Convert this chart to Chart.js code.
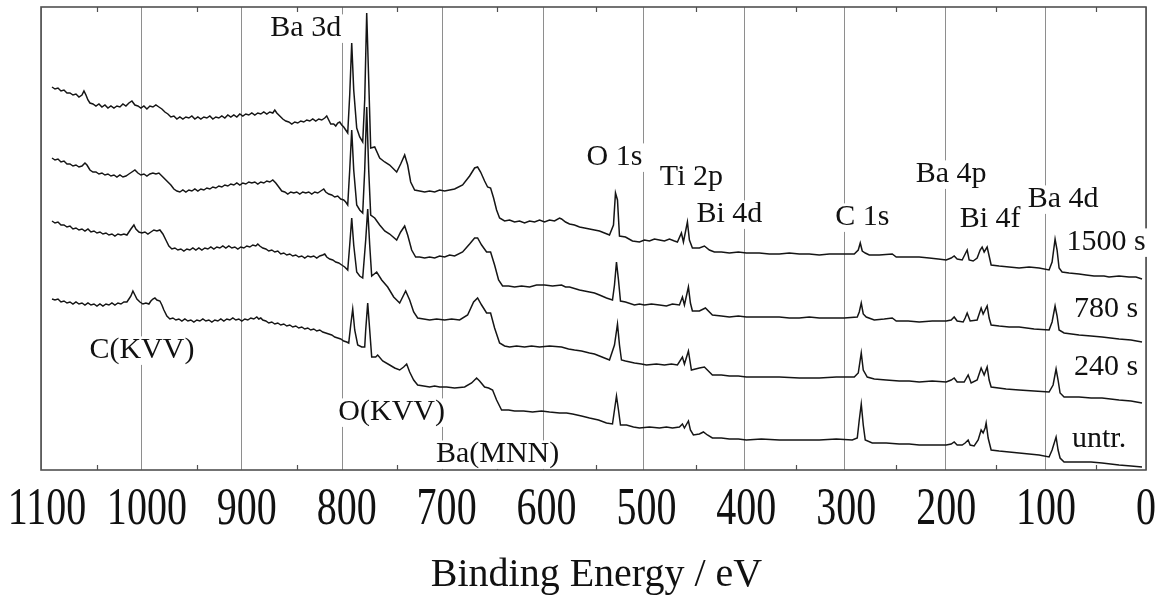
<!DOCTYPE html>
<html>
<head>
<meta charset="utf-8">
<title>XPS survey</title>
<script src="https://cdn.jsdelivr.net/npm/chart.js@4.4.1/dist/chart.umd.min.js"></script>
<style>
  html, body { margin: 0; padding: 0; background: #fff; }
  #wrap { width: 1165px; height: 597px; position: relative; }
</style>
</head>
<body>
<div id="wrap"><canvas id="xpsChart"></canvas></div>
<script>
// [binding energy (eV), intensity (a.u., spectra stacked)]

// 1500 s
const spec1500 = [
  [1095,383],[1092,381],[1089,382],[1086,379],[1083,380],[1080,377],[1077,377],[1074,375],[1071,376],[1068,373],
  [1065,375],[1063,379],[1061,375],[1059,370],[1057,367],[1054,366],[1051,364],[1048,366],[1045,363],[1042,365],
  [1039,362],[1036,364],[1033,362],[1030,364],[1027,363],[1024,366],[1021,364],[1018,367],[1015,369],[1012,365],
  [1009,364],[1006,362],[1003,364],[1000,361],[997,364],[994,363],[991,365],[988,363],[985,361],[982,358],
  [979,356],[976,353],[973,354],[970,351],[967,353],[964,351],[961,353],[958,352],[955,354],[952,351],
  [949,353],[946,351],[943,353],[940,352],[937,354],[934,351],[931,353],[928,352],[925,354],[922,352],
  [919,355],[916,353],[913,355],[910,353],[907,356],[904,354],[901,356],[898,355],[895,357],[892,355],
  [889,357],[886,356],[883,358],[880,356],[877,358],[874,357],[872,360],[870,357],[867,354],[864,351],
  [861,349],[858,348],[855,346],[852,348],[849,347],[846,349],[843,348],[840,350],[837,349],[834,351],
  [831,349],[828,351],[825,350],[822,352],[820,354],[818,350],[816,346],[813,346],[811,344],[809,347],
  [807,348],[805,345],[803,343],[801,340],[799,337],
  [797,375],[795,427],[793,380],[790,342],[787,333],[784,328],[782,370],[780,457],[778,390],[776,322],
  [772,323],[767,312],[762,308],[757,305],[750,298],[746,306],[742,315],[739,305],[736,288],[732,280],
  [727,279],[722,278],[717,279],[712,278],[707,280],[702,279],[697,280],[692,281],[684,285],[677,294],
  [672,302],[669,303],[666,298],[662,289],[659,283],[656,282],[653,272],[650,260],[647,252],[642,249],
  [637,250],[632,248],[627,249],[622,247],[617,249],[612,248],[607,250],[602,248],[597,250],[592,249],
  [587,252],[585,251],[581,248],[577,246],[572,245],[567,243],[562,242],[557,241],[552,240],[547,239],
  [542,237],[537,235],[533,245],[531,277],[529,270],[527,234],[521,233],[514,229],[507,228],[502,230],
  [497,229],[492,231],[487,230],[482,229],[477,231],[472,229],[469,228],[465,237],[463,228],[459,248],
  [457,230],[454,222],[447,222],[442,224],[437,220],[432,218],[425,218],[417,217],[408,218],[400,217],
  [387,217],[377,216],[367,216],[357,217],[347,216],[337,216],[327,215],[317,216],[307,216],[292,216],
  [288,220],[286,227],[284,219],[281,217],[277,215],[267,215],[254,216],[250,213],[237,213],[227,213],
  [217,212],[208,211],[200,210],[195,212],[192,214],[189,211],[184,210],[181,216],[179,220],[177,210],
  [173,209],[169,212],[166,220],[164,223],[162,218],[159,223],[157,214],[155,205],[147,204],[137,203],
  [127,202],[117,203],[107,202],[97,200],[94,208],[91,231],[89,220],[87,202],[84,198],[77,197],
  [67,196],[60,195],[52,194],[42,194],[37,193],[27,194],[17,193],[10,193],[4,191]
];

// 780 s
const spec780 = [
  [1095,312],[1092,310],[1089,311],[1086,308],[1083,309],[1080,306],[1077,306],[1074,304],[1071,305],[1068,303],
  [1065,304],[1062,307],[1060,305],[1057,300],[1054,298],[1051,298],[1048,296],[1045,297],[1042,295],[1039,296],
  [1036,294],[1033,295],[1030,293],[1027,295],[1024,293],[1021,294],[1018,296],[1015,298],[1012,300],[1009,297],
  [1006,295],[1003,296],[1000,294],[997,296],[994,297],[991,296],[988,297],[985,294],[982,291],[979,288],
  [976,285],[973,281],[970,279],[967,278],[964,280],[961,278],[958,280],[955,279],[952,281],[949,279],
  [946,281],[943,280],[940,282],[937,281],[934,283],[931,282],[928,284],[925,283],[922,285],[919,284],
  [916,286],[913,285],[910,287],[907,285],[904,287],[901,286],[898,288],[895,287],[892,288],[889,286],
  [886,288],[883,287],[880,289],[877,288],[874,290],[871,287],[868,283],[865,279],[862,278],[859,276],
  [856,278],[853,277],[850,278],[847,276],[844,278],[841,277],[838,278],[835,276],[832,278],[829,277],
  [826,279],[823,281],[821,278],[818,276],[815,275],[812,273],[809,274],[806,271],[803,270],[801,268],
  [799,265],
  [797,300],[795,340],[793,300],[790,265],[787,260],[784,257],[782,300],[780,363],[778,300],[776,255],
  [772,252],[767,245],[762,239],[757,236],[750,230],[746,238],[742,244],[739,235],[735,220],[731,213],
  [727,213],[722,212],[717,213],[712,212],[707,214],[702,213],[697,215],[692,214],[684,218],[677,226],
  [672,232],[669,232],[665,225],[660,218],[656,218],[652,205],[648,190],[644,184],[638,184],[632,183],
  [625,184],[617,183],[610,185],[602,185],[594,184],[585,185],[581,183],[577,183],[567,180],[562,179],
  [557,178],[552,177],[547,175],[540,172],[534,170],[532,185],[530,208],[528,190],[526,169],[521,168],
  [512,165],[507,166],[502,165],[495,166],[487,165],[480,164],[474,166],[467,165],[464,173],[462,165],
  [458,183],[456,167],[454,159],[447,159],[441,162],[434,155],[425,154],[417,153],[408,154],[400,153],
  [385,153],[367,153],[357,152],[347,152],[337,153],[327,152],[315,152],[302,152],[289,153],[287,158],
  [285,167],[283,156],[280,153],[272,150],[262,151],[254,152],[250,149],[238,149],[227,148],[214,149],
  [200,149],[195,150],[192,153],[189,149],[183,148],[181,152],[179,157],[176,149],[169,150],[165,162],
  [163,156],[159,164],[157,152],[155,145],[147,144],[137,143],[127,143],[112,141],[97,140],[94,148],
  [91,164],[89,154],[87,140],[82,137],[67,135],[55,134],[44,133],[27,131],[15,130],[4,128]
];

// 240 s
const spec240 = [
  [1095,249],[1092,247],[1089,248],[1086,245],[1083,245],[1080,243],[1077,244],[1074,241],[1071,242],[1068,240],
  [1065,241],[1062,239],[1059,241],[1056,238],[1053,239],[1050,237],[1047,238],[1044,236],[1041,237],[1038,235],
  [1035,236],[1032,234],[1029,236],[1026,235],[1023,236],[1020,235],[1018,238],[1016,241],[1013,245],[1011,241],
  [1008,238],[1005,237],[1002,238],[999,236],[996,238],[993,240],[990,239],[987,240],[984,236],[981,230],
  [978,224],[975,221],[972,222],[969,220],[966,221],[963,219],[960,221],[957,220],[954,222],[951,220],
  [948,222],[945,220],[942,222],[939,221],[936,223],[933,221],[930,223],[927,222],[924,224],[921,222],
  [918,224],[915,222],[912,223],[909,221],[906,223],[903,222],[900,224],[897,223],[894,225],[891,224],
  [889,226],[887,224],[884,222],[881,221],[878,219],[875,220],[872,218],[869,219],[866,216],[863,217],
  [860,215],[857,216],[854,214],[851,215],[848,213],[845,214],[842,212],[839,214],[836,213],[833,214],
  [830,212],[827,214],[824,215],[822,216],[820,213],[817,211],[814,210],[811,208],[808,207],[805,205],
  [802,203],[799,200],
  [797,225],[795,252],[793,225],[790,198],[787,194],[784,192],[781,230],[779,261],[777,225],[775,194],
  [770,198],[765,190],[759,183],[753,173],[747,167],[741,179],[737,170],[733,158],[729,152],[723,151],
  [717,150],[710,151],[702,150],[695,151],[687,150],[679,155],[673,168],[669,172],[665,165],[660,157],
  [656,157],[652,142],[647,127],[642,124],[637,123],[630,124],[622,123],[615,124],[607,123],[597,124],
  [585,123],[578,121],[572,120],[565,119],[557,117],[552,116],[547,114],[542,112],[537,110],[532,125],
  [529,146],[527,125],[525,110],[521,109],[512,107],[505,106],[500,105],[490,106],[482,105],[475,106],
  [469,105],[464,113],[462,106],[458,119],[455,100],[447,102],[442,103],[434,95],[425,95],[417,94],
  [408,94],[400,93],[385,93],[367,93],[347,92],[327,92],[310,93],[292,93],[288,97],[285,117],
  [283,100],[279,93],[272,91],[260,90],[247,89],[237,89],[227,88],[214,89],[200,88],[195,90],
  [192,92],[189,88],[182,88],[178,95],[175,87],[169,90],[165,102],[162,95],[159,103],[157,90],
  [155,83],[140,81],[127,80],[112,79],[97,78],[93,85],[90,101],[88,90],[86,77],[82,73],
  [67,73],[55,72],[44,72],[27,70],[15,69],[4,67]
];

// untreated
const specUntr = [
  [1095,171],[1092,170],[1089,171],[1086,168],[1083,169],[1080,167],[1077,168],[1074,166],[1071,168],[1068,166],
  [1065,167],[1062,165],[1059,167],[1056,165],[1053,166],[1050,164],[1047,166],[1044,164],[1041,166],[1038,165],
  [1035,167],[1032,165],[1029,167],[1026,166],[1023,168],[1020,168],[1018,171],[1016,174],[1014,179],[1012,175],
  [1010,171],[1007,168],[1004,166],[1001,167],[998,166],[996,169],[994,171],[992,172],[990,170],[987,169],
  [985,165],[983,160],[980,154],[977,151],[974,152],[971,150],[968,151],[965,149],[962,151],[959,149],
  [956,150],[953,148],[950,150],[947,149],[944,151],[941,149],[938,150],[935,148],[932,150],[929,149],
  [926,151],[923,149],[920,151],[917,150],[914,152],[911,150],[908,151],[905,149],[902,151],[899,150],
  [896,152],[893,151],[890,153],[888,151],[886,152],[884,150],[881,149],[878,147],[875,148],[872,146],
  [869,147],[866,145],[863,146],[860,144],[857,145],[854,143],[851,144],[848,142],[845,143],[842,141],
  [839,142],[836,140],[833,141],[830,139],[827,140],[824,138],[821,137],[818,136],[815,135],[812,133],
  [809,132],[806,131],[803,129],[800,128],[798,127],
  [796,145],[794,161],[792,140],[789,125],[785,123],[782,123],[781,140],[779,167],[777,140],[775,113],
  [771,113],[769,115],[764,109],[757,105],[752,102],[747,100],[743,103],[740,106],[737,98],[733,90],
  [729,85],[723,84],[717,83],[712,84],[707,83],[700,83],[692,82],[682,83],[675,87],[670,92],
  [667,89],[662,83],[658,82],[654,80],[650,70],[645,60],[638,60],[632,59],[623,59],[614,58],
  [605,59],[597,58],[587,57],[580,57],[574,56],[565,54],[557,52],[548,50],[540,47],[534,46],
  [532,60],[530,74],[528,60],[526,45],[520,45],[513,43],[507,42],[497,43],[487,42],[480,43],
  [474,42],[467,43],[464,46],[462,42],[458,49],[456,40],[453,35],[447,36],[443,38],[439,35],
  [434,32],[425,32],[417,31],[408,31],[400,30],[385,31],[367,30],[347,30],[327,30],[310,31],
  [294,30],[289,32],[287,50],[285,66],[283,45],[281,30],[274,27],[260,27],[247,26],[237,26],
  [227,25],[214,25],[200,25],[195,26],[192,28],[189,25],[184,25],[181,27],[178,30],[176,25],
  [172,24],[168,30],[165,40],[163,37],[161,42],[160,47],[158,32],[155,20],[147,19],[137,18],
  [127,17],[117,16],[107,15],[97,13],[94,20],[90,33],[88,20],[86,12],[82,8],[67,8],
  [55,8],[44,7],[27,5],[15,4],[4,3]
];

const seriesNames = ['1500 s', '780 s', '240 s', 'untr.'];
const seriesData = [spec1500, spec780, spec240, specUntr];

// axis
const energyTicks = [1100, 1000, 900, 800, 700, 600, 500, 400, 300, 200, 100, 0];
const axisTitle = 'Binding Energy / eV';

// peak labels: text, energy (eV) and intensity (a.u.) of the text baseline
const peakLabels = ['Ba 3d', 'O 1s', 'Ti 2p', 'Bi 4d', 'C 1s', 'Ba 4p', 'Bi 4f', 'Ba 4d', 'C(KVV)', 'O(KVV)', 'Ba(MNN)'];
const peakLabelEnergy = [841, 532, 455, 417, 284, 195, 156, 83, 1005, 755, 649];
const peakLabelLevel = [434, 305, 285, 248, 245, 288, 243, 263, 112, 50, 8];
// spectrum names at the right end
const nameLabelEnergy = [40, 40, 40, 47];
const nameLabelLevel = [220, 153, 95, 23];


document.addEventListener('DOMContentLoaded', () => {
    const ctx = document.getElementById('xpsChart').getContext('2d');

    const datasets = seriesNames.map((name, s) => ({
        label: name,
        data: seriesData[s].map(p => ({ x: p[0], y: p[1] })),
        borderColor: '#151515',
        borderWidth: 1.5,
        pointRadius: 0,
        tension: 0,
        fill: false
    }));

    new Chart(ctx, {
        type: 'line',
        data: { datasets: datasets },
        options: {
            responsive: true,
            maintainAspectRatio: false,
            animation: false,
            parsing: false,
            layout: { padding: { left: 41, right: 19, top: 7, bottom: 127 } },
            plugins: {
                legend: { display: false },
                tooltip: { enabled: false }
            },
            scales: {
                x: {
                    type: 'linear',
                    reverse: true,
                    bounds: 'data',
                    min: 0,
                    max: 1106,
                    border: { display: false },
                    grid: { color: '#8e8e8e', lineWidth: 1, drawTicks: false },
                    ticks: { display: false, stepSize: 100, includeBounds: false }
                },
                y: {
                    display: false,
                    min: 0,
                    max: 463
                }
            }
        },
        plugins: [frameAndLabels]
    });
});


// --- drawing helpers ---

const serif = '"Liberation Serif", "Times New Roman", serif';
const labelSize = 30;

function labelBox(c, text, x, y) {
    c.font = labelSize + 'px ' + serif;
    const w = c.measureText(text).width;
    c.fillStyle = '#fff';
    c.fillRect(x - w / 2 - 2, y - labelSize * 0.72, w + 4, labelSize * 0.95);
}

function labelText(c, text, x, y) {
    c.font = labelSize + 'px ' + serif;
    c.textAlign = 'center';
    c.textBaseline = 'alphabetic';
    c.fillStyle = '#111';
    c.fillText(text, x, y);
}

const frameAndLabels = {
    id: 'frameAndLabels',
    beforeDatasetsDraw(chart) {
        const c = chart.ctx;
        const area = chart.chartArea;
        const xs = chart.scales.x;
        const ys = chart.scales.y;
        c.save();

        // frame
        c.strokeStyle = '#505050';
        c.lineWidth = 1.6;
        c.strokeRect(area.left, area.top, area.right - area.left, area.bottom - area.top);

        // minor ticks half way between the grid lines, top and bottom
        c.lineWidth = 1.2;
        for (let v = 50; v < 1100; v += 100) {
            const px = Math.round(xs.getPixelForValue(v)) + 0.5;
            c.beginPath();
            c.moveTo(px, area.top);
            c.lineTo(px, area.top + 5);
            c.moveTo(px, area.bottom);
            c.lineTo(px, area.bottom - 5);
            c.stroke();
        }

        // white boxes behind the labels, they cut the grid lines
        peakLabels.forEach((t, i) => {
            labelBox(c, t, xs.getPixelForValue(peakLabelEnergy[i]), ys.getPixelForValue(peakLabelLevel[i]));
        });
        seriesNames.forEach((t, i) => {
            labelBox(c, t, xs.getPixelForValue(nameLabelEnergy[i]), ys.getPixelForValue(nameLabelLevel[i]));
        });
        c.restore();
    },
    afterDatasetsDraw(chart) {
        const c = chart.ctx;
        const xs = chart.scales.x;
        const ys = chart.scales.y;
        c.save();

        peakLabels.forEach((t, i) => {
            labelText(c, t, xs.getPixelForValue(peakLabelEnergy[i]), ys.getPixelForValue(peakLabelLevel[i]));
        });
        seriesNames.forEach((t, i) => {
            labelText(c, t, xs.getPixelForValue(nameLabelEnergy[i]), ys.getPixelForValue(nameLabelLevel[i]));
        });

        // tick labels: narrow serif digits under the frame
        const baseY = chart.chartArea.bottom + 54;
        c.font = '52px ' + serif;
        c.textAlign = 'center';
        c.textBaseline = 'alphabetic';
        c.fillStyle = '#111';
        energyTicks.forEach(v => {
            c.save();
            c.translate(xs.getPixelForValue(v), baseY);
            c.scale(0.77, 1);
            c.fillText(String(v), 0, 0);
            c.restore();
        });

        // axis title
        const mid = (chart.chartArea.left + chart.chartArea.right) / 2;
        c.font = '40px ' + serif;
        c.fillText(axisTitle, mid + 3, chart.chartArea.bottom + 116);
        c.restore();
    }
};
</script>
</body>
</html>
